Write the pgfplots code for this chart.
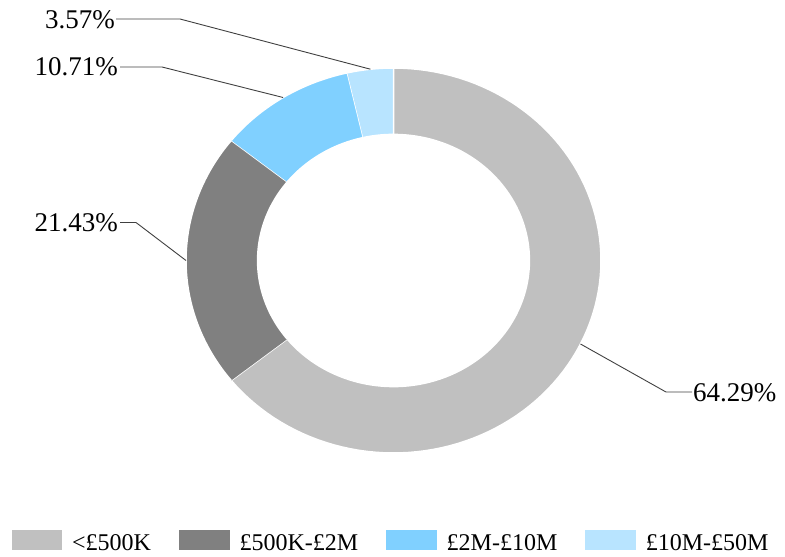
\documentclass[border=0pt]{standalone}
\usepackage{pgfplots}
\pgfplotsset{compat=1.18}
\usepackage{pgfplotstable}
\usepackage{fontspec}
\setmainfont{Liberation Serif}
\definecolor{cA}{HTML}{C0C0C0}
\definecolor{cB}{HTML}{808080}
\definecolor{cC}{HTML}{80D0FF}
\definecolor{cD}{HTML}{B8E4FF}
\definecolor{lead}{HTML}{404040}
\pgfplotstableread{
idx value
0 64.29
1 21.43
2 10.71
3 3.57
}\donutdata
\begin{document}
\begin{tikzpicture}
\pgfplotstablegetelem{0}{value}\of\donutdata \let\va\pgfplotsretval
\pgfplotstablegetelem{1}{value}\of\donutdata \let\vb\pgfplotsretval
\pgfplotstablegetelem{2}{value}\of\donutdata \let\vc\pgfplotsretval
\pgfplotstablegetelem{3}{value}\of\donutdata \let\vd\pgfplotsretval
\pgfmathsetmacro\aA{90}
\pgfmathsetmacro\aB{90-3.6*\va}
\pgfmathsetmacro\aC{\aB-3.6*\vb}
\pgfmathsetmacro\aD{\aC-3.6*\vc}
\pgfmathsetmacro\aE{\aD-3.6*\vd}
\begin{axis}[
  scale only axis, width=785pt, height=557pt,
  xmin=0, xmax=785, ymin=0, ymax=557, y dir=reverse,
  hide axis, clip=false,
  declare function={
    angf(\t,\a,\b)=\a+(\b-\a)*min(\t,1)-(\b-\a)*max(\t-2,0);
    radf(\t)=1-0.345*min(max(\t-1,0),1);
    px(\t,\a,\b)=393.5+207.5*radf(\t)*cos(angf(\t,\a,\b));
    py(\t,\a,\b)=260.5-192.5*radf(\t)*sin(angf(\t,\a,\b));
  },
  legend columns=4,
  legend cell align=left,
  legend image code/.code={\fill[#1] (0pt,-8pt) rectangle (52pt,14pt);},
  legend style={at={(axis cs:10,540)}, anchor=west, draw=none, fill=none,
    inner sep=0pt, font=\fontsize{24}{24}\selectfont,
    nodes={inner sep=0pt},
    /tikz/every odd column/.append style={column sep=8.5pt},
    /tikz/every even column/.append style={column sep=26.5pt}},
]
\path (rel axis cs:0,0) rectangle (rel axis cs:1,1);
\addplot[fill=cA, draw=white, line width=1.5pt, domain=0:3, samples=301] ({px(x,\aA,\aB)},{py(x,\aA,\aB)});
\addplot[fill=cB, draw=white, line width=1.5pt, domain=0:3, samples=301] ({px(x,\aB,\aC)},{py(x,\aB,\aC)});
\addplot[fill=cC, draw=white, line width=1.5pt, domain=0:3, samples=301] ({px(x,\aC,\aD)},{py(x,\aC,\aD)});
\addplot[fill=cD, draw=white, line width=1.5pt, domain=0:3, samples=301] ({px(x,\aD,\aE)},{py(x,\aD,\aE)});
\legend{<£500K, £500K-£2M, £2M-£10M, £10M-£50M}
% leader lines
\draw[lead, line width=0.9pt] (axis cs:116,19) -- (axis cs:180,19) -- (axis cs:370.4,69.2);
\draw[lead, line width=0.9pt] (axis cs:120,67) -- (axis cs:162,67) -- (axis cs:283.1,97.5);
\draw[lead, line width=0.9pt] (axis cs:120,222.5) -- (axis cs:136,222.5) -- (axis cs:186,260.5);
\draw[lead, line width=0.9pt] (axis cs:580.5,344) -- (axis cs:666,392) -- (axis cs:692,392);
\node[anchor=base east, inner sep=0pt, font=\fontsize{27}{27}\selectfont] at (axis cs:115,28) {3.57\%};
\node[anchor=base east, inner sep=0pt, font=\fontsize{27}{27}\selectfont] at (axis cs:118,75) {10.71\%};
\node[anchor=base east, inner sep=0pt, font=\fontsize{27}{27}\selectfont] at (axis cs:118,231.5) {21.43\%};
\node[anchor=base west, inner sep=0pt, font=\fontsize{27}{27}\selectfont] at (axis cs:693,401.5) {64.29\%};
\end{axis}
\end{tikzpicture}
\end{document}
